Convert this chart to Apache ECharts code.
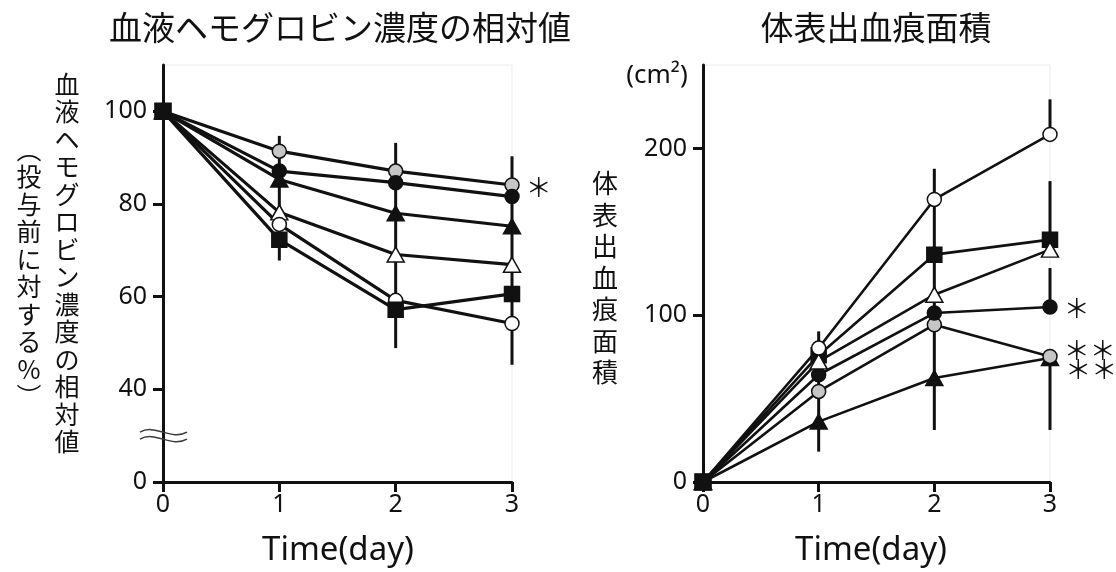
<!DOCTYPE html>
<html>
<head>
<meta charset="utf-8">
<script src="https://cdn.jsdelivr.net/npm/echarts@6/dist/echarts.min.js"></script>
<style>
  html, body { margin: 0; padding: 0; background: #fff; }
  #chart { width: 1116px; height: 572px; }
</style>
</head>
<body>
<div id="chart"></div>
<script>
// ---- data -------------------------------------------------------------
const days = [0, 1, 2, 3];
const dayTicks = [0, 1, 2, 3];

// Relative blood haemoglobin concentration (% of pre-dose value)
const hbGrayCircle  = [100, 91.4, 87.1, 84.1];
const hbBlackCircle = [100, 87.1, 84.6, 81.6];
const hbBlackTri    = [100, 85.3, 78.0, 75.2];
const hbWhiteTri    = [100, 78.2, 69.1, 66.9];
const hbWhiteCircle = [100, 75.6, 59.2, 54.2];
const hbBlackSquare = [100, 72.3, 57.2, 60.6];
// error bar spans (day, low, high)
const hbErrDay  = [1, 2, 3];
const hbErrLow  = [67.8, 48.9, 45.3];
const hbErrHigh = [94.7, 93.2, 90.3];
// broken axis: the lowest tick position stands for 0
const hbTickValues = [20, 40, 60, 80, 100];
const hbTickLabels = ['0', '40', '60', '80', '100'];
const hbBreakAt = 30;

// Body-surface bleeding area (cm²)
const areaWhiteCircle = [0, 80.3, 169.4, 208.4];
const areaBlackSquare = [0, 76.0, 136.3, 145.3];
const areaWhiteTri    = [0, 72.3, 112.3, 139.3];
const areaBlackCircle = [0, 64.3, 101.3, 104.9];
const areaGrayCircle  = [0, 54.3, 94.3, 75.3];
const areaBlackTri    = [0, 36.2, 62.3, 74.3];
const areaErrDay  = [1, 2, 3, 3, 3, 3];
const areaErrLow  = [18.2, 31.2, 31.2, 104.9, 145.3, 208.4];
const areaErrHigh = [90.3, 187.8, 75.3, 128.3, 180.4, 229.4];
const areaTickValues = [0, 100, 200];

// ---- styles -----------------------------------------------------------
const INK = '#111';
const GRAY = '#c6c6c6';
const WHITE = '#ffffff';
const LATIN = "'Noto Sans', 'Noto Sans CJK JP', sans-serif";
const CJK = "'Noto Sans CJK JP', sans-serif";

const CIRCLE = { symbol: 'circle', size: 14 };
const SQUARE = { symbol: 'rect', size: 15 };
const TRI = { symbol: 'triangle', size: [17, 15] };

const sigStyle = { fontSize: 26, color: INK, fontFamily: CJK, position: 'right', distance: 6 };

const hbGroups = [
  { values: hbGrayCircle,  shape: CIRCLE, fill: GRAY,  sig: '＊', sigOffset: [0, 2] },
  { values: hbBlackCircle, shape: CIRCLE, fill: INK },
  { values: hbBlackTri,    shape: TRI,    fill: INK },
  { values: hbWhiteTri,    shape: TRI,    fill: WHITE },
  { values: hbWhiteCircle, shape: CIRCLE, fill: WHITE },
  { values: hbBlackSquare, shape: SQUARE, fill: INK }
];

const areaGroups = [
  { values: areaBlackTri,    shape: TRI,    fill: INK,   sig: '＊＊', sigOffset: [0, 11] },
  { values: areaGrayCircle,  shape: CIRCLE, fill: GRAY,  sig: '＊＊', sigOffset: [0, -6] },
  { values: areaBlackCircle, shape: CIRCLE, fill: INK,   sig: '＊',   sigOffset: [0, 1] },
  { values: areaBlackSquare, shape: SQUARE, fill: INK },
  { values: areaWhiteTri,    shape: TRI,    fill: WHITE },
  { values: areaWhiteCircle, shape: CIRCLE, fill: WHITE }
];

// the shared day-0 starting point is shown with the black-square marker
function buildSeries(gi, groups, lineWidth, errDay, errLow, errHigh, baseline) {
  const out = [];
  // error bars underneath everything
  out.push({
    type: 'custom',
    xAxisIndex: gi, yAxisIndex: gi,
    z: 2, silent: true, animation: false,
    data: errDay.map((d, i) => [d, errLow[i], errHigh[i]]),
    encode: { x: 0, y: [1, 2] },
    renderItem: (params, api) => {
      const a = api.coord([api.value(0), api.value(1)]);
      const b = api.coord([api.value(0), api.value(2)]);
      return {
        type: 'line',
        shape: { x1: a[0], y1: a[1], x2: b[0], y2: b[1] },
        style: { stroke: INK, lineWidth: 3 }
      };
    }
  });
  // connecting lines
  groups.forEach(g => {
    out.push({
      type: 'line',
      xAxisIndex: gi, yAxisIndex: gi,
      z: 3, silent: true, animation: false,
      symbol: 'none', showSymbol: false,
      data: days.map((d, i) => [d, g.values[i]]),
      lineStyle: { color: INK, width: lineWidth }
    });
  });
  // markers on top of all lines
  groups.forEach(g => {
    out.push({
      type: 'scatter',
      xAxisIndex: gi, yAxisIndex: gi,
      z: 4, silent: true, animation: false,
      symbol: g.shape.symbol,
      symbolSize: g.shape.size,
      itemStyle: { color: g.fill, borderColor: INK, borderWidth: 1.5, opacity: 1 },
      data: days.map((d, i) => {
        const item = { value: [d, g.values[i]] };
        if (g.sig && i === days.length - 1) {
          item.label = Object.assign({ show: true, formatter: g.sig, offset: g.sigOffset }, sigStyle);
        }
        return item;
      })
    });
  });
  out.push({
    type: 'scatter',
    xAxisIndex: gi, yAxisIndex: gi,
    z: 5, silent: true, animation: false,
    symbol: SQUARE.symbol, symbolSize: SQUARE.size + 1,
    itemStyle: { color: INK, borderColor: INK, borderWidth: 1.5, opacity: 1 },
    data: [[days[0], baseline[0]]]
  });
  return out;
}

function xAxisFor(gi) {
  return {
    type: 'value', gridIndex: gi,
    min: 0, max: 3, interval: 1,
    axisLine: { show: true, onZero: false, lineStyle: { color: INK, width: 3 } },
    axisTick: { show: true, length: 10, lineStyle: { color: INK, width: 3 }, customValues: dayTicks },
    axisLabel: { color: INK, fontSize: 25, fontFamily: LATIN, margin: 10, customValues: dayTicks },
    splitLine: { show: false }
  };
}

function yAxisFor(gi, min, max, interval, tickValues, fmt) {
  return {
    type: 'value', gridIndex: gi,
    min: min, max: max, interval: interval,
    axisLine: { show: true, onZero: false, lineStyle: { color: INK, width: 3 } },
    axisTick: { show: true, length: 10, lineStyle: { color: INK, width: 3 }, customValues: tickValues },
    axisLabel: { color: INK, fontSize: 25, fontFamily: LATIN, margin: 16, customValues: tickValues, formatter: fmt },
    splitLine: { show: false }
  };
}

const chart = echarts.init(document.getElementById('chart'), null, { renderer: 'canvas' });

const GRID_TOP = 65, GRID_H = 417;

chart.setOption({
  backgroundColor: '#fff',
  animation: false,
  grid: [
    { left: 163, top: GRID_TOP, width: 349, height: GRID_H, show: true, borderColor: '#ebebeb', borderWidth: 1, backgroundColor: 'transparent' },
    { left: 703, top: GRID_TOP, width: 347, height: GRID_H, show: true, borderColor: '#ebebeb', borderWidth: 1, backgroundColor: 'transparent' }
  ],
  xAxis: [xAxisFor(0), xAxisFor(1)],
  yAxis: [
    yAxisFor(0, 20, 110, 20, hbTickValues, v => hbTickLabels[hbTickValues.indexOf(v)] ?? ''),
    yAxisFor(1, 0, 250, 50, areaTickValues, v => String(v))
  ],
  series: [].concat(
    buildSeries(0, hbGroups, 3.2, hbErrDay, hbErrLow, hbErrHigh, hbBlackSquare),
    buildSeries(1, areaGroups, 2.6, areaErrDay, areaErrLow, areaErrHigh, areaBlackSquare)
  )
});

// ---- titles, axis captions and the axis-break mark ----------------------
function vertical(str) { return Array.from(str).join('\n'); }

const brk = chart.convertToPixel({ gridIndex: 0 }, [0, hbBreakAt]);
function wave(cx, cy) {
  return {
    type: 'bezierCurve', silent: true, z: 10,
    shape: { x1: cx - 23, y1: cy, cpx1: cx - 8, cpy1: cy - 9, cpx2: cx + 8, cpy2: cy + 9, x2: cx + 24, y2: cy },
    style: { stroke: '#3a3a3a', lineWidth: 1.5, fill: null }
  };
}

const textBase = { fill: INK, align: 'center', verticalAlign: 'middle' };

chart.setOption({
  graphic: [
    { type: 'text', silent: true, x: 340, y: 27,
      style: Object.assign({ text: '血液ヘモグロビン濃度の相対値', fontSize: 33, fontFamily: CJK }, textBase) },
    { type: 'text', silent: true, x: 876, y: 27,
      style: Object.assign({ text: '体表出血痕面積', fontSize: 33, fontFamily: CJK }, textBase) },
    { type: 'text', silent: true, x: 67, y: 263,
      style: Object.assign({ text: vertical('血液ヘモグロビン濃度の相対値'), fontSize: 25, lineHeight: 27.5, fontFamily: CJK }, textBase) },
    { type: 'text', silent: true, x: 29, y: 273,
      style: Object.assign({ text: vertical('︵投与前に対する%︶'), fontSize: 25, lineHeight: 27.5, fontFamily: CJK }, textBase) },
    { type: 'text', silent: true, x: 605, y: 278,
      style: Object.assign({ text: vertical('体表出血痕面積'), fontSize: 26, lineHeight: 31.5, fontFamily: CJK }, textBase) },
    { type: 'text', silent: true, x: 657, y: 76,
      style: Object.assign({ text: '(cm²)', fontSize: 26, fontFamily: LATIN }, textBase) },
    { type: 'text', silent: true, x: 338, y: 551,
      style: Object.assign({ text: 'Time(day)', fontSize: 33, fontFamily: LATIN }, textBase) },
    { type: 'text', silent: true, x: 871, y: 551,
      style: Object.assign({ text: 'Time(day)', fontSize: 33, fontFamily: LATIN }, textBase) },
    wave(brk[0], brk[1] - 3.5),
    wave(brk[0], brk[1] + 3.5)
  ]
});
</script>
</body>
</html>
